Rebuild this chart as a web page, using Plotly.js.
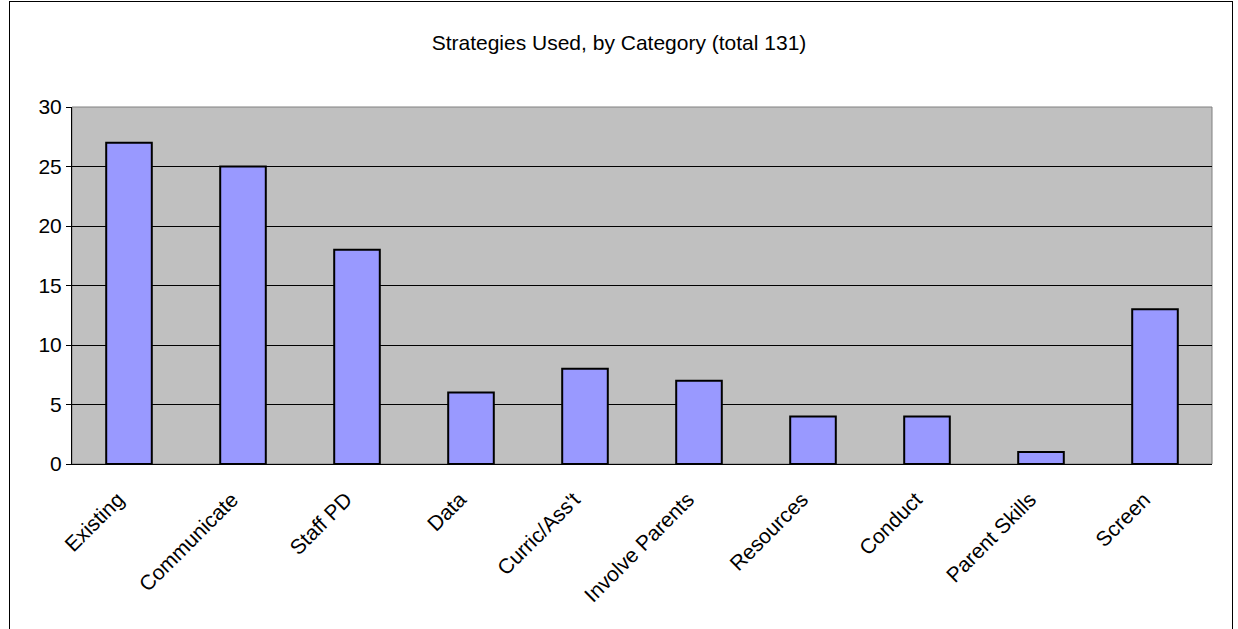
<!DOCTYPE html>
<html><head><meta charset="utf-8">
<script src="https://cdn.plot.ly/plotly-3.0.1.min.js"></script>
<style>html,body{margin:0;padding:0;background:#fff;}#wrap{position:relative;width:1238px;height:629px;}#frame{position:absolute;left:9px;top:1px;width:1222px;height:640px;border:1px solid #000;pointer-events:none;}</style>
</head><body><div id="wrap"><div id="chart" style="width:1238px;height:629px;"></div><div id="frame"></div></div>
<script>
const categories = ["Existing","Communicate","Staff PD","Data","Curric/Ass't","Involve Parents","Resources","Conduct","Parent Skills","Screen"];
const counts = [27,25,18,6,8,7,4,4,1,13];
const titleText = "Strategies Used, by Category (total 131)";
const yTicks = [0,5,10,15,20,25,30];

Plotly.newPlot('chart', [{
  type:'bar', x:categories, y:counts,
  marker:{color:'#9999FF', line:{color:'#000', width:2}},
  hoverinfo:'x+y'
}], {
  width:1238, height:629,
  margin:{l:72, r:26, t:107, b:165},
  paper_bgcolor:'#fff', plot_bgcolor:'#C0C0C0',
  bargap:0.6,
  font:{family:'Liberation Sans, Arial, sans-serif', size:21, color:'#000'},
  title:{text:titleText, x:0.5, xref:'container', y:1-43/629, yref:'container', yanchor:'middle', font:{size:21}},
  xaxis:{type:'category', tickangle:-45, showline:true, linecolor:'#000', linewidth:1, ticks:'', mirror:false, tickfont:{size:21}, automargin:false, ticklabelstandoff:14, ticklabelshift:-11},
  yaxis:{range:[0,30], tickvals:yTicks, ticks:'outside', ticklen:5, tickcolor:'#000', showline:true, linecolor:'#000', linewidth:1, gridcolor:'#000', gridwidth:1, zeroline:false, tickfont:{size:21}, automargin:false},
  shapes:[{type:'rect', xref:'paper', yref:'paper', x0:0, x1:1, y0:0, y1:1, line:{color:'#808080', width:1}, layer:'below'}],
  showlegend:false
}, {displayModeBar:false, staticPlot:true});
</script></body></html>
